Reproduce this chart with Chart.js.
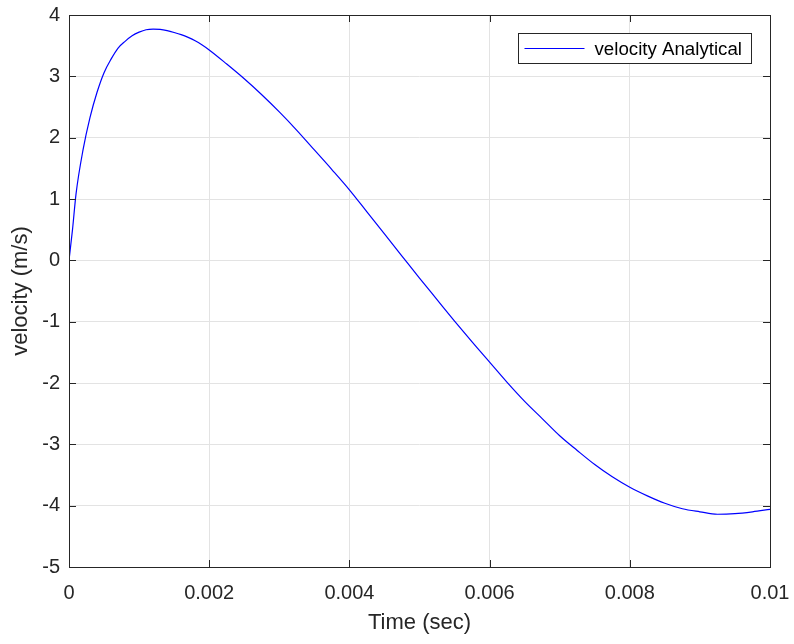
<!DOCTYPE html>
<html>
<head>
<meta charset="utf-8">
<title>velocity Analytical</title>
<script src="https://cdn.jsdelivr.net/npm/chart.js@4.4.1/dist/chart.umd.min.js"></script>
<style>
  html, body { margin: 0; padding: 0; background: #fff; }
  #wrap { width: 794px; height: 644px; }
</style>
</head>
<body>
<div id="wrap"><canvas id="velocityChart" width="794" height="644"></canvas></div>
<script>
// values
var timeSec = [0, 0.00005, 0.0001, 0.0002, 0.0003, 0.0004, 0.0005, 0.0006, 0.0007, 0.0008,
               0.0009, 0.001, 0.0011, 0.0012, 0.0013, 0.0014, 0.0015, 0.0016, 0.0017, 0.0018,
               0.0019, 0.002, 0.00225, 0.0025, 0.00275, 0.003, 0.00325, 0.0035, 0.00375, 0.004,
               0.00425, 0.0045, 0.00475, 0.005, 0.00525, 0.0055, 0.00575, 0.006, 0.00625, 0.0065,
               0.00675, 0.007, 0.00725, 0.0075, 0.00775, 0.008, 0.00825, 0.0085, 0.00875, 0.009,
               0.00925, 0.0095, 0.00975, 0.01];
var velocityAnalytical = [0, 0.5, 1.08, 1.8, 2.33, 2.74, 3.06, 3.28, 3.46, 3.57,
                          3.66, 3.72, 3.76, 3.77, 3.765, 3.745, 3.715, 3.68, 3.635, 3.58,
                          3.51, 3.43, 3.2, 2.96, 2.7, 2.42, 2.12, 1.8, 1.48, 1.15,
                          0.79, 0.43, 0.07, -0.29, -0.64, -0.99, -1.33, -1.66, -1.99, -2.3,
                          -2.58, -2.86, -3.1, -3.33, -3.53, -3.7, -3.84, -3.96, -4.05, -4.1,
                          -4.14, -4.13, -4.1, -4.06];
var xTicks = [0, 0.002, 0.004, 0.006, 0.008, 0.01];
var yTicks = [-5, -4, -3, -2, -1, 0, 1, 2, 3, 4];
var seriesLabel = 'velocity Analytical';

var FONT = '"Liberation Sans", Arial, Helvetica, sans-serif';
var AXIS_COLOR = '#262626';

// MATLAB style box, inward ticks and boxed legend
var matlabFrame = {
  id: 'matlabFrame',
  afterDatasetsDraw: function(chart) {
    var ctx = chart.ctx, a = chart.chartArea;
    var xs = chart.scales.x, ys = chart.scales.y;
    var tl = 7;
    ctx.save();
    ctx.strokeStyle = AXIS_COLOR;
    ctx.lineWidth = 1;
    ctx.beginPath();
    xTicks.forEach(function(v) {
      var px = Math.round(xs.getPixelForValue(v)) + 0.5;
      ctx.moveTo(px, a.bottom); ctx.lineTo(px, a.bottom - tl);
      ctx.moveTo(px, a.top); ctx.lineTo(px, a.top + tl);
    });
    yTicks.forEach(function(v) {
      var py = Math.round(ys.getPixelForValue(v)) + 0.5;
      ctx.moveTo(a.left, py); ctx.lineTo(a.left + tl, py);
      ctx.moveTo(a.right, py); ctx.lineTo(a.right - tl, py);
    });
    ctx.stroke();
    ctx.strokeRect(Math.round(a.left) + 0.5, Math.round(a.top) + 0.5,
                   Math.round(a.right - a.left), Math.round(a.bottom - a.top));

    // legend
    ctx.font = '18.7px ' + FONT;
    var textW = ctx.measureText(seriesLabel).width;
    var boxW = Math.round(6 + 60 + 10 + textW + 10);
    var boxH = 30;
    var bx = Math.round(a.right - 19 - boxW) + 0.5;
    var by = Math.round(a.top + 18) + 0.5;
    ctx.fillStyle = '#fff';
    ctx.fillRect(bx, by, boxW, boxH);
    ctx.strokeStyle = AXIS_COLOR;
    ctx.strokeRect(bx, by, boxW, boxH);
    var ly = Math.round(by + boxH / 2) - 0.5;
    ctx.strokeStyle = '#0000ff';
    ctx.lineWidth = 1.2;
    ctx.beginPath();
    ctx.moveTo(bx + 6, ly); ctx.lineTo(bx + 66, ly);
    ctx.stroke();
    ctx.fillStyle = '#000';
    ctx.textBaseline = 'middle';
    ctx.textAlign = 'left';
    ctx.fillText(seriesLabel, bx + 76, by + boxH / 2 + 1);
    ctx.restore();
  }
};

var ctx = document.getElementById('velocityChart').getContext('2d');
var chart = new Chart(ctx, {
  type: 'line',
  data: {
    datasets: [{
      label: seriesLabel,
      data: timeSec.map(function(t, i) { return { x: t, y: velocityAnalytical[i] }; }),
      borderColor: '#0000ff',
      borderWidth: 1.2,
      pointRadius: 0,
      fill: false,
      cubicInterpolationMode: 'monotone'
    }]
  },
  options: {
    responsive: false,
    animation: false,
    layout: { padding: { left: 0, right: 24, top: 15, bottom: 0 } },
    plugins: {
      legend: { display: false },
      tooltip: { enabled: false }
    },
    scales: {
      x: {
        type: 'linear',
        min: 0,
        max: 0.01,
        afterBuildTicks: function(scale) {
          scale.ticks = xTicks.map(function(v) { return { value: v }; });
        },
        afterFit: function(scale) {
          scale.height = 77;
          scale.paddingLeft = 0;
          scale.paddingRight = 0;
        },
        grid: { color: '#e3e3e3', lineWidth: 1, drawTicks: false },
        border: { display: false },
        ticks: {
          padding: 14,
          maxRotation: 0,
          color: AXIS_COLOR,
          font: { family: FONT, size: 20 },
          callback: function(v) { return String(parseFloat(v.toFixed(3))); }
        },
        title: {
          display: true,
          text: 'Time (sec)',
          color: AXIS_COLOR,
          font: { family: FONT, size: 22 },
          padding: { top: 0, bottom: 8 }
        }
      },
      y: {
        min: -5,
        max: 4,
        afterBuildTicks: function(scale) {
          scale.ticks = yTicks.map(function(v) { return { value: v }; });
        },
        afterFit: function(scale) {
          scale.width = 69;
          scale.paddingTop = 0;
          scale.paddingBottom = 0;
        },
        grid: { color: '#e3e3e3', lineWidth: 1, drawTicks: false },
        border: { display: false },
        ticks: {
          padding: 9,
          color: AXIS_COLOR,
          font: { family: FONT, size: 20 }
        },
        title: {
          display: true,
          text: 'velocity (m/s)',
          color: AXIS_COLOR,
          font: { family: FONT, size: 22 },
          padding: { top: 8, bottom: 0 }
        }
      }
    }
  },
  plugins: [matlabFrame]
});
</script>
</body>
</html>
